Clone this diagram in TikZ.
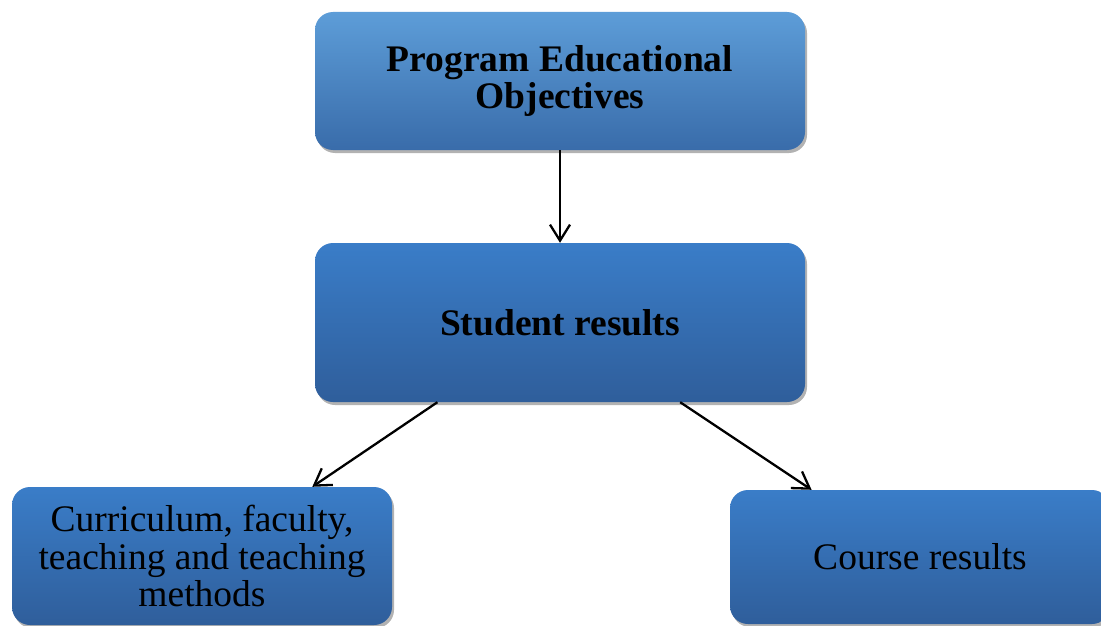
\documentclass[tikz,border=0pt]{standalone}
\usepackage{fontspec}
\setmainfont{Liberation Serif}
\usetikzlibrary{arrows.meta,shadows,calc}

\begin{document}
\begin{tikzpicture}[x=1pt,y=-1pt]
		\useasboundingbox (0,0) rectangle (1101,626);
		\clip (0,0) rectangle (1101,626);
		
		\tikzstyle{mybox}=[rectangle,
		rounded corners=18pt,
		top color={rgb,255:red,58;green,125;blue,200},
		bottom color={rgb,255:red,47;green,94;blue,155},
		drop shadow={shadow xshift=2pt,shadow yshift=-3pt,opacity=0.3,fill=black},
		text=black,
		align=center,
		inner sep=0pt,
		font=\fontsize{37.5}{37.5}\selectfont
		]
		\tikzstyle{myboxtop}=[mybox,
		top color={rgb,255:red,93;green,157;blue,216},
		middle color={rgb,255:red,63;green,122;blue,186},
		bottom color={rgb,255:red,57;green,108;blue,170}
		]
		\tikzstyle{myarrow}=[-{Straight Barb[length=16pt,width=20pt]},
		line width=2.3pt,
		draw=black
		]
		
		\coordinate (ppeo) at (560, 81);
		\coordinate (pstu) at (560, 322.5);
		\coordinate (pcur) at (202, 556);
		\coordinate (pcou) at (920, 557);
		
		\node[myboxtop, minimum width=490pt, minimum height=138pt] (peo) at (ppeo) {\bfseries Program Educational\\\bfseries Objectives};
		\node[mybox, minimum width=490pt, minimum height=159pt] (stu) at (pstu) {\bfseries Student results};
		\node[mybox, minimum width=380pt, minimum height=138pt] (cur) at (pcur) {Curriculum, faculty,\\teaching and teaching\\methods};
		\node[mybox, minimum width=380pt, minimum height=134pt] (cou) at (pcou) {Course results};
		
		\draw[myarrow] (peo) -- (stu);
		\draw[myarrow] ($(stu.south west)!0.25!(stu.south east)$) -- ($(cur.north west)!0.79!(cur.north east)$);
		\draw[myarrow] ($(stu.south west)!0.745!(stu.south east)$) -- ($(cou.north west)!0.215!(cou.north east)$);
		
\end{tikzpicture}
\end{document}
